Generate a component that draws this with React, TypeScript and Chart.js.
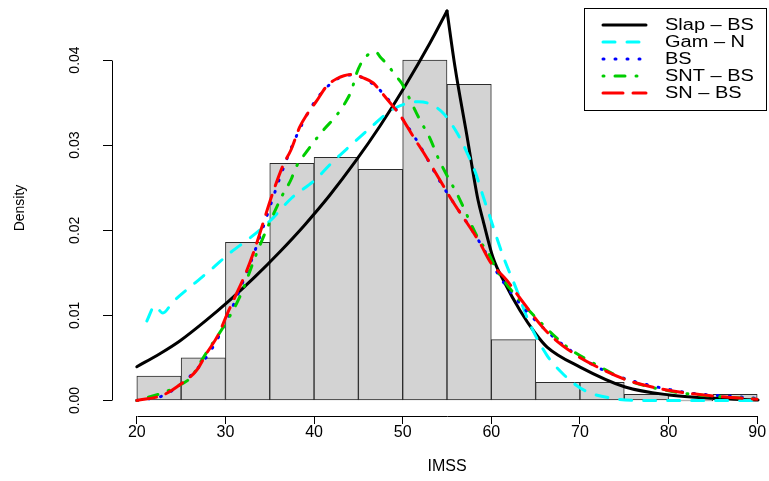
import React, { useEffect, useRef } from "react";
import { Chart, registerables } from "chart.js";

Chart.register(...registerables);

// ---- Data ----
const binCenters = [22.5, 27.5, 32.5, 37.5, 42.5, 47.5, 52.5, 57.5, 62.5, 67.5, 72.5, 77.5, 82.5, 87.5];
const binDensity = [0.002857, 0.005, 0.018571, 0.027857, 0.028571, 0.027143, 0.04, 0.037143, 0.007143, 0.002143, 0.002143, 0.000714, 0, 0.000714];

// Slap-BS: rising branch up to the cusp at 55, then the falling branch
const slapRiseX = [20, 22.6, 24.85, 27.68, 30.5, 33.32, 36.15, 38.97, 41.79, 44.62, 47.44, 50.26, 53.08, 55];
const slapRiseY = [0.00397, 0.0055, 0.007, 0.0093, 0.0118, 0.01452, 0.01748, 0.02066, 0.02414, 0.02802, 0.03225, 0.03692, 0.042, 0.04576];
const slapFallX = [55, 55.9, 57.2, 58.5, 59.06, 60.19, 61.55, 63.24, 64.94, 66.29, 70.02, 75.1, 80.07, 85.03, 90.1];
const slapFallY = [0.04576, 0.0392, 0.0314, 0.02355, 0.0212, 0.0168, 0.01374, 0.01057, 0.00793, 0.00628, 0.00393, 0.00159, 0.00065, 0.00026, 0.00006];

const gamX = [21.13, 22.03, 22.94, 24.06, 26.55, 28.58, 30.5, 32.76, 35.02, 37.47, 40.1, 41.98, 44.05, 46.31, 48.57, 50.26, 51.76, 53.08, 54.58, 56.16, 57.29, 58.24, 58.99, 59.77, 61.36, 62.87, 64.26, 66.26, 68.21, 70.58, 74.16, 76.79, 90.1];
const gamY = [0.00934, 0.0111, 0.01028, 0.01157, 0.0138, 0.01557, 0.01733, 0.01909, 0.02109, 0.02379, 0.0259, 0.0279, 0.0299, 0.03201, 0.03401, 0.03484, 0.0351, 0.03484, 0.03374, 0.03139, 0.02904, 0.02669, 0.02426, 0.0218, 0.01689, 0.01298, 0.00919, 0.00534, 0.003, 0.00115, 0.00018, 0, 0];

const bsX = [20, 23.5, 28.43, 32.5, 37.53, 40.55, 44.16, 47.13, 51.2, 54.4, 58.5, 61.32, 65.84, 72.0, 80.37, 89.78];
const bsY = [0, 0.00085, 0.00601, 0.0153, 0.02993, 0.03577, 0.03824, 0.03675, 0.03119, 0.0254, 0.0189, 0.01396, 0.00855, 0.0039, 0.00123, 0.00026];

const sntX = [20, 22.97, 24.48, 26.18, 27.11, 28.05, 30.13, 31.63, 32.39, 33.52, 36.34, 37.47, 37.84, 39.16, 39.91, 41.23, 42.36, 43.48, 44.24, 44.8, 45.37, 46.31, 46.98, 47.44, 48.38, 49.13, 49.89, 50.45, 51.02, 51.95, 53.08, 54.02, 54.97, 56.1, 58.73, 59.48, 60.61, 62.87, 65.31, 68.52, 71.9, 75.29, 80.55, 85.07, 89.97];
const sntY = [0, 0.00092, 0.00162, 0.0028, 0.00437, 0.00593, 0.00926, 0.0122, 0.01416, 0.01729, 0.02394, 0.02611, 0.02716, 0.02923, 0.03029, 0.03198, 0.03327, 0.03492, 0.03648, 0.03844, 0.03973, 0.04079, 0.04094, 0.04039, 0.03933, 0.03824, 0.03727, 0.03616, 0.03492, 0.03295, 0.0308, 0.02845, 0.02649, 0.02434, 0.01866, 0.01768, 0.01533, 0.01219, 0.00945, 0.00632, 0.00417, 0.00241, 0.00103, 0.0005, 0.00018];

const snX = [20, 22.97, 24.97, 26.77, 27.9, 29.18, 30.31, 31.26, 32.2, 33.14, 35.39, 36.52, 37.39, 38.4, 39.16, 40.29, 41.4, 42.55, 44.24, 45.55, 46.68, 47.44, 48.94, 49.69, 51.2, 52.52, 54.2, 55.54, 58.73, 59.86, 61.74, 63.24, 66.26, 69.26, 72.27, 75.28, 79.8, 85.06, 89.97];
const snY = [0, 0.00065, 0.00194, 0.00358, 0.00558, 0.0077, 0.01043, 0.01259, 0.01474, 0.01729, 0.02453, 0.02767, 0.02943, 0.03217, 0.03354, 0.0352, 0.0369, 0.0378, 0.0383, 0.0379, 0.0373, 0.0364, 0.03452, 0.03354, 0.03099, 0.02884, 0.0259, 0.02355, 0.01847, 0.01631, 0.01414, 0.01201, 0.00808, 0.00555, 0.00378, 0.00241, 0.00123, 0.00053, 0.00014];

const xTicks = [20, 30, 40, 50, 60, 70, 80, 90];
const yTicks = [0, 0.01, 0.02, 0.03, 0.04];
const seriesLabels = ["Slap \u2013 BS", "Gam \u2013 N", "BS", "SNT \u2013 BS", "SN \u2013 BS"];

const FONT = "'Liberation Sans', Arial, Helvetica, sans-serif";

export default function App() {
  const ref = useRef<HTMLCanvasElement>(null);

  useEffect(() => {
    const canvas = ref.current;
    if (!canvas) return;
    const pts = (xs: number[], ys: number[]) => xs.map((x, i) => ({ x, y: ys[i] }));
    const lineDs = (label: string, xs: number[], ys: number[], color: string, dash: number[], order: number) => ({
      type: "line" as const,
      label,
      data: pts(xs, ys),
      borderColor: color,
      backgroundColor: color,
      borderWidth: 3,
      borderDash: dash,
      borderCapStyle: "round" as const,
      borderJoinStyle: "round" as const,
      pointRadius: 0,
      fill: false,
      tension: 0,
      cubicInterpolationMode: "monotone" as const,
      order,
    });

    const axisLines = {
      id: "rAxisLines",
      afterDraw(chart: any) {
        const { ctx } = chart;
        const xs = chart.scales.x;
        const ys = chart.scales.y;
        ctx.save();
        ctx.strokeStyle = "#000";
        ctx.lineWidth = 1;
        ctx.beginPath();
        const yb = Math.round(chart.chartArea.bottom) + 0.5;
        ctx.moveTo(Math.round(xs.getPixelForValue(xTicks[0])) + 0.5, yb);
        ctx.lineTo(Math.round(xs.getPixelForValue(xTicks[xTicks.length - 1])) + 0.5, yb);
        const xl = Math.round(chart.chartArea.left) + 0.5;
        ctx.moveTo(xl, Math.round(ys.getPixelForValue(yTicks[0])) + 0.5);
        ctx.lineTo(xl, Math.round(ys.getPixelForValue(yTicks[yTicks.length - 1])) + 0.5);
        ctx.stroke();
        ctx.restore();
      },
    };

    const rLegend = {
      id: "rLegend",
      afterDraw(chart: any) {
        const { ctx } = chart;
        const seen = new Set<string>();
        const lines = chart.data.datasets.filter((d: any) => {
          if (d.type !== "line" || seen.has(d.label)) return false;
          seen.add(d.label);
          return true;
        });
        const bx = 584, by = 8, bw = 182, bh = 102;
        ctx.save();
        ctx.fillStyle = "#fff";
        ctx.fillRect(bx, by, bw, bh);
        ctx.strokeStyle = "#000";
        ctx.lineWidth = 1;
        ctx.setLineDash([]);
        ctx.strokeRect(bx + 0.5, by + 0.5, bw, bh);
        lines.forEach((d: any, i: number) => {
          const y = 25 + i * 17;
          ctx.beginPath();
          ctx.strokeStyle = d.borderColor;
          ctx.lineWidth = d.borderWidth;
          ctx.lineCap = d.borderCapStyle;
          ctx.setLineDash(d.borderDash || []);
          ctx.moveTo(603, y);
          ctx.lineTo(646, y);
          ctx.stroke();
          ctx.setLineDash([]);
          ctx.save();
          ctx.translate(665, y + 1);
          ctx.scale(1.25, 1);
          ctx.fillStyle = "#000";
          ctx.font = `16px ${FONT}`;
          ctx.textAlign = "left";
          ctx.textBaseline = "middle";
          ctx.fillText(d.label, 0, 0);
          ctx.restore();
        });
        ctx.restore();
      },
    };

    const chart = new Chart(canvas, {
      type: "bar",
      data: {
        datasets: [
          {
            type: "bar",
            label: "hist",
            data: pts(binCenters, binDensity),
            backgroundColor: "#D3D3D3",
            borderColor: "#2b2b2b",
            borderWidth: 1,
            borderSkipped: false,
            barPercentage: 1,
            categoryPercentage: 1,
            minBarLength: 1,
            order: 10,
          } as any,
          lineDs(seriesLabels[0], slapRiseX, slapRiseY, "#000000", [], 6),
          lineDs(seriesLabels[0], slapFallX, slapFallY, "#000000", [], 5),
          lineDs(seriesLabels[1], gamX, gamY, "#00FFFF", [12, 12], 4),
          lineDs(seriesLabels[2], bsX, bsY, "#0000FF", [1, 11], 3),
          lineDs(seriesLabels[3], sntX, sntY, "#00CD00", [1, 11, 10, 11], 2),
          lineDs(seriesLabels[4], snX, snY, "#FF0000", [20, 10], 1),
        ],
      },
      options: {
        responsive: false,
        maintainAspectRatio: false,
        animation: false,
        devicePixelRatio: 1,
        events: [],
        layout: { padding: 0 },
        plugins: {
          legend: { display: false },
          tooltip: { enabled: false },
          title: { display: false },
        },
        scales: {
          x: {
            type: "linear",
            position: "bottom",
            min: 17.2,
            max: 92.8,
            offset: false,
            grid: { display: true, drawOnChartArea: false, drawTicks: true, tickLength: 8, color: "#000", lineWidth: 1, offset: false },
            border: { display: false },
            ticks: {
              autoSkip: false,
              minRotation: 0,
              maxRotation: 0,
              padding: 1,
              color: "#000",
              font: { family: FONT, size: 16, lineHeight: 1 },
              callback: (v: any) => String(v),
            },
            title: { display: true, text: "IMSS", color: "#000", font: { family: FONT, size: 16, lineHeight: 1 }, padding: { top: 0, bottom: 6 } },
            afterBuildTicks: (s: any) => {
              s.ticks = xTicks.map((v) => ({ value: v }));
            },
            afterFit: (s: any) => {
              s.height = 65;
              s.paddingLeft = 0;
              s.paddingRight = 0;
            },
          },
          y: {
            type: "linear",
            position: "left",
            min: -0.001821,
            max: 0.04705,
            grid: { display: true, drawOnChartArea: false, drawTicks: true, tickLength: 9, color: "#000", lineWidth: 1 },
            border: { display: false },
            ticks: {
              autoSkip: false,
              minRotation: 90,
              maxRotation: 90,
              crossAlign: "center",
              padding: 14,
              color: "#000",
              font: { family: FONT, size: 14, lineHeight: 1 },
              callback: (v: any) => Number(v).toFixed(2),
            },
            title: { display: true, text: "Density", color: "#000", font: { family: FONT, size: 14, lineHeight: 1 }, padding: { top: 13, bottom: 0 } },
            afterBuildTicks: (s: any) => {
              s.ticks = yTicks.map((v) => ({ value: v }));
            },
            afterFit: (s: any) => {
              s.width = 112;
              s.paddingTop = 0;
              s.paddingBottom = 0;
            },
          },
        },
      } as any,
      plugins: [axisLines, rLegend],
    });

    return () => chart.destroy();
  }, []);

  return (
    <div style={{ position: "fixed", left: 0, top: 0, width: 769, height: 481, overflow: "hidden", background: "#ffffff" }}>
      <canvas ref={ref} width={782} height={481} />
    </div>
  );
}
